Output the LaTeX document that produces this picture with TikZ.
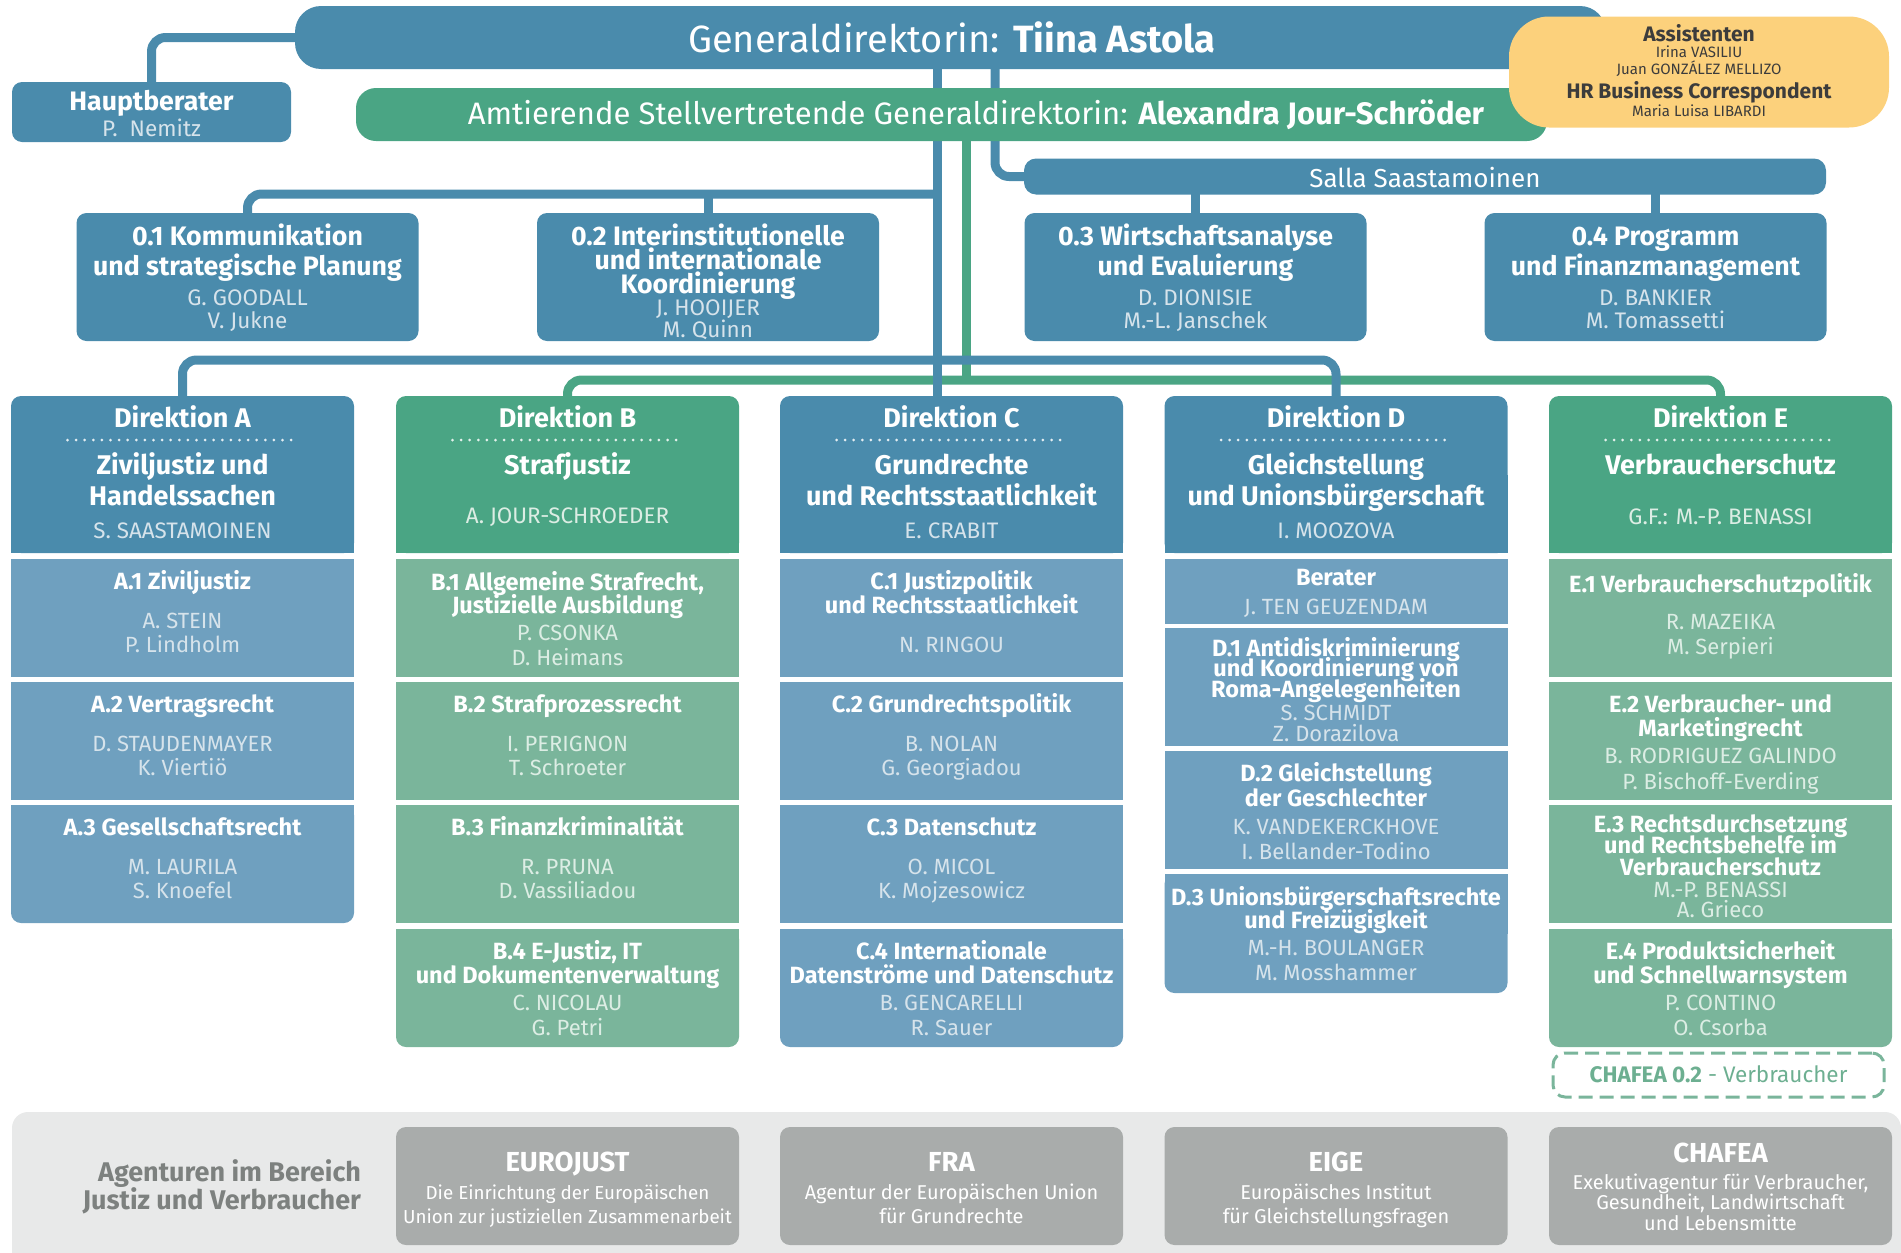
\documentclass[tikz,border=0pt]{standalone}
\usepackage{fontspec}
\setmainfont{Fira Sans}
\usetikzlibrary{calc,backgrounds}
\definecolor{dblue}{HTML}{4A8BAC}
\definecolor{dgreen}{HTML}{4AA584}
\definecolor{lblue}{HTML}{6FA0BF}
\definecolor{lgreen}{HTML}{7AB59B}
\definecolor{nb}{HTML}{D6E3EB}
\definecolor{ng}{HTML}{DCEDE4}
\definecolor{yel}{HTML}{FCD17C}
\definecolor{agbg}{HTML}{E8E9E9}
\definecolor{agbox}{HTML}{A9ACAB}
\definecolor{agtxt}{HTML}{7D817F}
\definecolor{dtxt}{HTML}{3C3C3C}
\definecolor{chtxt}{HTML}{6DAF91}
\tikzset{
 bx/.style={inner sep=0pt, outer sep=0pt, draw=none},
 txl/.style={inner sep=0pt, outer sep=0pt, text depth=0pt, align=center},
 conn/.style={line width=9pt, draw=dblue, rounded corners=14pt},
 gconn/.style={line width=9pt, draw=dgreen, rounded corners=14pt},
 ubox/.style={bx, minimum width=343pt, minimum height=118pt},
 hbox/.style={bx, minimum width=343pt, minimum height=157pt, rounded corners=10pt},
 obox/.style={bx, fill=dblue, minimum width=342pt, minimum height=128pt, rounded corners=10pt},
 abox/.style={bx, fill=agbox, minimum width=343pt, minimum height=118pt, rounded corners=10pt},
 gdt/.style={txl, font=\fontsize{38}{38}\selectfont, text=white, text height=26pt},
 dpt/.style={txl, font=\fontsize{31}{31}\selectfont, text=white, text height=21.4pt},
 sat/.style={txl, font=\fontsize{26}{26}\selectfont, text=white, text height=18pt},
 otit/.style={txl, font=\bfseries\fontsize{26.7}{27}\selectfont, text=white, text height=18.4pt},
 onam/.style={txl, font=\fontsize{22.5}{23}\selectfont, text=nb, text height=15.5pt},
 dtit/.style={txl, font=\bfseries\fontsize{27}{27}\selectfont, text=white, text height=18.6pt},
 dnb/.style={txl, font=\fontsize{22.4}{23}\selectfont, text=nb, text height=15.4pt},
 dng/.style={txl, font=\fontsize{22.4}{23}\selectfont, text=ng, text height=15.4pt},
 utit/.style={txl, font=\bfseries\fontsize{23.5}{24}\selectfont, text=white, text height=16.2pt},
 unb/.style={txl, font=\fontsize{22}{22}\selectfont, text=nb, text height=15.2pt},
 ung/.style={txl, font=\fontsize{22}{22}\selectfont, text=ng, text height=15.2pt},
 ybold/.style={txl, font=\bfseries\fontsize{21}{21}\selectfont, text=dtxt, text height=14.5pt},
 ynam/.style={txl, font=\fontsize{15}{15}\selectfont, text=dtxt, text height=10.3pt},
 agtit/.style={txl, font=\bfseries\fontsize{27.5}{28}\selectfont, text=white, text height=19pt},
 agline/.style={txl, font=\fontsize{20}{20}\selectfont, text=white, text height=13.8pt},
 aglinen/.style={txl, font=\fontsize{18.8}{19}\selectfont, text=white, text height=13pt},
 aglab/.style={txl, font=\bfseries\fontsize{27}{27}\selectfont, text=agtxt, text height=18.6pt, anchor=east},
 chtext/.style={txl, font=\fontsize{22.5}{23}\selectfont, text=chtxt, text height=15.5pt},
 hdots/.style={line width=3pt, line cap=round, dash pattern=on 0pt off 8.6pt, draw=white, draw opacity=0.85}
}
\begin{document}
\begin{tikzpicture}[x=1pt,y=-1pt]
\useasboundingbox (0,0) rectangle (1901,1253);

% ---------- top level boxes
\node[bx, fill=dblue, rounded corners=26pt, minimum width=1311pt, minimum height=63pt] (gd) at (950.5,37.5) {};
\node[gdt] (gdtext) at (952,39) {Generaldirektorin: \textbf{Tiina Astola}};

\node[bx, fill=dblue, rounded corners=10pt, minimum width=279pt, minimum height=60pt] (hb) at (151.5,112) {};
\node[otit] (hbt) at (151.5,101) {Hauptberater};
\node[onam] (hbn) at (151.5,129) {P.\ \ Nemitz};

\node[bx, fill=dgreen, rounded corners=20pt, minimum width=1191pt, minimum height=53pt] (dep) at (951.5,114.5) {};
\node[dpt] (deptext) at (976,114) {Amtierende Stellvertretende Generaldirektorin: \textbf{Alexandra Jour-Schröder}};

\node[bx, fill=yel, rounded corners=40pt, minimum width=380pt, minimum height=111pt] (ass) at (1699,72) {};
\node[ybold] (ass1) at (1699,34) {Assistenten};
\node[ynam] (ass2) at (1699,52) {Irina VASILIU};
\node[ynam] (ass3) at (1699,69) {Juan GONZÁLEZ MELLIZO};
\node[ybold] (ass4) at (1699,91) {HR Business Correspondent};
\node[ynam] (ass5) at (1699,111) {Maria Luisa LIBARDI};

\node[bx, fill=dblue, rounded corners=12pt, minimum width=802pt, minimum height=36pt] (salla) at (1425,176.5) {};
\node[sat] (sallat) at (1425,178) {Salla Saastamoinen};

% ---------- 0.x units
\node[obox] (o1) at (247.5,277) {};
\node[otit] (o1a) at (247.5,236) {0.1 Kommunikation};
\node[otit] (o1b) at (247.5,266) {und strategische Planung};
\node[onam] (o1c) at (247.5,298) {G. GOODALL};
\node[onam] (o1d) at (247.5,321) {V. Jukne};

\node[obox] (o2) at (708,277) {};
\node[otit] (o2a) at (708,236) {0.2 Interinstitutionelle};
\node[otit] (o2b) at (708,260) {und internationale};
\node[otit] (o2c) at (708,284) {Koordinierung};
\node[onam] (o2d) at (708,308) {J. HOOIJER};
\node[onam] (o2e) at (708,330) {M. Quinn};

\node[obox] (o3) at (1195.5,277) {};
\node[otit] (o3a) at (1195.5,236) {0.3 Wirtschaftsanalyse};
\node[otit] (o3b) at (1195.5,266) {und Evaluierung};
\node[onam] (o3c) at (1195.5,298) {D. DIONISIE};
\node[onam] (o3d) at (1195.5,321) {M.-L. Janschek};

\node[obox] (o4) at (1655.5,277) {};
\node[otit] (o4a) at (1655.5,236) {0.4 Programm};
\node[otit] (o4b) at (1655.5,266) {und Finanzmanagement};
\node[onam] (o4c) at (1655.5,298) {D. BANKIER};
\node[onam] (o4d) at (1655.5,321) {M. Tomassetti};

% ---------- directorate headers
\node[hbox, fill=dblue] (dA) at (182.5,474.5) {};
\fill[dblue] (dA.west) rectangle (dA.south east);
\node[hbox, fill=dgreen] (dB) at (567.5,474.5) {};
\fill[dgreen] (dB.west) rectangle (dB.south east);
\node[hbox, fill=dblue] (dC) at (951.5,474.5) {};
\fill[dblue] (dC.west) rectangle (dC.south east);
\node[hbox, fill=dblue] (dD) at (1336,474.5) {};
\fill[dblue] (dD.west) rectangle (dD.south east);
\node[hbox, fill=dgreen] (dE) at (1720.5,474.5) {};
\fill[dgreen] (dE.west) rectangle (dE.south east);

\foreach \d in {dA,dB,dC,dD,dE}{
  \draw[hdots] ($(\d.north)+(-115,44)$) -- ($(\d.north)+(115,44)$);
}

\node[dtit] (dAa) at (182.5,418) {Direktion A};
\node[dtit] (dAb) at (182.5,465) {Ziviljustiz und};
\node[dtit] (dAc) at (182.5,496) {Handelssachen};
\node[dnb] (dAd) at (182.5,531) {S. SAASTAMOINEN};

\node[dtit] (dBa) at (567.5,418) {Direktion B};
\node[dtit] (dBb) at (567.5,465) {Strafjustiz};
\node[dng] (dBd) at (567.5,516) {A. JOUR-SCHROEDER};

\node[dtit] (dCa) at (951.5,418) {Direktion C};
\node[dtit] (dCb) at (951.5,465) {Grundrechte};
\node[dtit] (dCc) at (951.5,496) {und Rechtsstaatlichkeit};
\node[dnb] (dCd) at (951.5,531) {E. CRABIT};

\node[dtit] (dDa) at (1336,418) {Direktion D};
\node[dtit] (dDb) at (1336,465) {Gleichstellung};
\node[dtit] (dDc) at (1336,496) {und Unionsbürgerschaft};
\node[dnb] (dDd) at (1336,531) {I. MOOZOVA};

\node[dtit] (dEa) at (1720.5,418) {Direktion E};
\node[dtit] (dEb) at (1720.5,465) {Verbraucherschutz};
\node[dng] (dEd) at (1720.5,517) {G.F.: M.-P. BENASSI};

% ---------- column A
\node[ubox, fill=lblue] (A1) at (182.5,618) {};
\node[utit] (A1a) at (182.5,581) {A.1 Ziviljustiz};
\node[unb] (A1b) at (182.5,621) {A. STEIN};
\node[unb] (A1c) at (182.5,645) {P. Lindholm};
\node[ubox, fill=lblue] (A2) at (182.5,741) {};
\node[utit] (A2a) at (182.5,704) {A.2 Vertragsrecht};
\node[unb] (A2b) at (182.5,744) {D. STAUDENMAYER};
\node[unb] (A2c) at (182.5,768) {K. Viertiö};
\node[ubox, fill=lblue, rounded corners=10pt] (A3) at (182.5,864) {};
\fill[lblue] (A3.west) rectangle (A3.north east);
\node[utit] (A3a) at (182.5,827) {A.3 Gesellschaftsrecht};
\node[unb] (A3b) at (182.5,867) {M. LAURILA};
\node[unb] (A3c) at (182.5,891) {S. Knoefel};

% ---------- column B
\node[ubox, fill=lgreen] (B1) at (567.5,618) {};
\node[utit] (B1a) at (567.5,582) {B.1 Allgemeine Strafrecht,};
\node[utit] (B1b) at (567.5,605) {Justizielle Ausbildung};
\node[ung] (B1c) at (567.5,633) {P. CSONKA};
\node[ung] (B1d) at (567.5,658) {D. Heimans};
\node[ubox, fill=lgreen] (B2) at (567.5,741) {};
\node[utit] (B2a) at (567.5,704) {B.2 Strafprozessrecht};
\node[ung] (B2b) at (567.5,744) {I. PERIGNON};
\node[ung] (B2c) at (567.5,768) {T. Schroeter};
\node[ubox, fill=lgreen] (B3) at (567.5,864) {};
\node[utit] (B3a) at (567.5,827) {B.3 Finanzkriminalität};
\node[ung] (B3b) at (567.5,867) {R. PRUNA};
\node[ung] (B3c) at (567.5,891) {D. Vassiliadou};
\node[ubox, fill=lgreen, rounded corners=10pt] (B4) at (567.5,988) {};
\fill[lgreen] (B4.west) rectangle (B4.north east);
\node[utit] (B4a) at (567.5,951) {B.4 E-Justiz, IT};
\node[utit] (B4b) at (567.5,975) {und Dokumentenverwaltung};
\node[ung] (B4c) at (567.5,1003) {C. NICOLAU};
\node[ung] (B4d) at (567.5,1028) {G. Petri};

% ---------- column C
\node[ubox, fill=lblue] (C1) at (951.5,618) {};
\node[utit] (C1a) at (951.5,581) {C.1 Justizpolitik};
\node[utit] (C1b) at (951.5,605) {und Rechtsstaatlichkeit};
\node[unb] (C1c) at (951.5,645) {N. RINGOU};
\node[ubox, fill=lblue] (C2) at (951.5,741) {};
\node[utit] (C2a) at (951.5,704) {C.2 Grundrechtspolitik};
\node[unb] (C2b) at (951.5,744) {B. NOLAN};
\node[unb] (C2c) at (951.5,768) {G. Georgiadou};
\node[ubox, fill=lblue] (C3) at (951.5,864) {};
\node[utit] (C3a) at (951.5,827) {C.3 Datenschutz};
\node[unb] (C3b) at (951.5,867) {O. MICOL};
\node[unb] (C3c) at (951.5,891) {K. Mojzesowicz};
\node[ubox, fill=lblue, rounded corners=10pt] (C4) at (951.5,988) {};
\fill[lblue] (C4.west) rectangle (C4.north east);
\node[utit] (C4a) at (951.5,951) {C.4 Internationale};
\node[utit] (C4b) at (951.5,975) {Datenströme und Datenschutz};
\node[unb] (C4c) at (951.5,1003) {B. GENCARELLI};
\node[unb] (C4d) at (951.5,1028) {R. Sauer};

% ---------- column D
\node[ubox, fill=lblue, minimum height=65pt] (D0) at (1336,591.5) {};
\node[utit] (D0a) at (1336,577) {Berater};
\node[unb] (D0b) at (1336,607) {J. TEN GEUZENDAM};
\node[ubox, fill=lblue] (D1) at (1336,687) {};
\node[utit] (D1a) at (1336,648) {D.1 Antidiskriminierung};
\node[utit] (D1b) at (1336,668) {und Koordinierung von};
\node[utit] (D1c) at (1336,689) {Roma-Angelegenheiten};
\node[unb] (D1d) at (1336,713) {S. SCHMIDT};
\node[unb] (D1e) at (1336,734) {Z. Dorazilova};
\node[ubox, fill=lblue] (D2) at (1336,810) {};
\node[utit] (D2a) at (1336,773) {D.2 Gleichstellung};
\node[utit] (D2b) at (1336,798) {der Geschlechter};
\node[unb] (D2c) at (1336,827) {K. VANDEKERCKHOVE};
\node[unb] (D2d) at (1336,852) {I. Bellander-Todino};
\node[ubox, fill=lblue, rounded corners=10pt, minimum height=119pt] (D3) at (1336,933.5) {};
\fill[lblue] (D3.west) rectangle (D3.north east);
\node[utit] (D3a) at (1336,897) {D.3 Unionsbürgerschaftsrechte};
\node[utit] (D3b) at (1336,920) {und Freizügigkeit};
\node[unb] (D3c) at (1336,948) {M.-H. BOULANGER};
\node[unb] (D3d) at (1336,973) {M. Mosshammer};

% ---------- column E
\node[ubox, fill=lgreen] (E1) at (1720.5,618) {};
\node[utit] (E1a) at (1720.5,584) {E.1 Verbraucherschutzpolitik};
\node[ung] (E1b) at (1720.5,622) {R. MAZEIKA};
\node[ung] (E1c) at (1720.5,647) {M. Serpieri};
\node[ubox, fill=lgreen] (E2) at (1720.5,741) {};
\node[utit] (E2a) at (1720.5,704) {E.2 Verbraucher- und};
\node[utit] (E2b) at (1720.5,728) {Marketingrecht};
\node[ung] (E2c) at (1720.5,756) {B. RODRIGUEZ GALINDO};
\node[ung] (E2d) at (1720.5,782) {P. Bischoff-Everding};
\node[ubox, fill=lgreen] (E3) at (1720.5,864) {};
\node[utit] (E3a) at (1720.5,824) {E.3 Rechtsdurchsetzung};
\node[utit] (E3b) at (1720.5,845) {und Rechtsbehelfe im};
\node[utit] (E3c) at (1720.5,867) {Verbraucherschutz};
\node[ung] (E3d) at (1720.5,890) {M.-P. BENASSI};
\node[ung] (E3e) at (1720.5,910) {A. Grieco};
\node[ubox, fill=lgreen, rounded corners=10pt] (E4) at (1720.5,988) {};
\fill[lgreen] (E4.west) rectangle (E4.north east);
\node[utit] (E4a) at (1720.5,951) {E.4 Produktsicherheit};
\node[utit] (E4b) at (1720.5,975) {und Schnellwarnsystem};
\node[ung] (E4c) at (1720.5,1003) {P. CONTINO};
\node[ung] (E4d) at (1720.5,1028) {O. Csorba};

\node[bx, draw=lgreen, line width=3pt, dash pattern=on 14pt off 7pt, rounded corners=12pt, minimum width=331pt, minimum height=44pt] (chf) at (1718.5,1075) {};
\node[chtext] (chft) at (1718.5,1075) {\textbf{CHAFEA 0.2} - Verbraucher};

% ---------- agencies
\node[bx, fill=agbg, rounded corners=16pt, minimum width=1889pt, minimum height=170pt, anchor=north west] (band) at (12,1112) {};
\node[aglab] (band1) at (361,1172) {Agenturen im Bereich};
\node[aglab] (band2) at (361,1200) {Justiz und Verbraucher};

\node[abox] (agB) at (567.5,1186) {};
\node[agtit] (agBa) at (567.5,1162) {EUROJUST};
\node[aglinen] (agBb) at (567.5,1193) {Die Einrichtung der Europäischen};
\node[aglinen] (agBc) at (567.5,1217) {Union zur justiziellen Zusammenarbeit};
\node[abox] (agC) at (951.5,1186) {};
\node[agtit] (agCa) at (951.5,1162) {FRA};
\node[agline] (agCb) at (951.5,1193) {Agentur der Europäischen Union};
\node[agline] (agCc) at (951.5,1217) {für Grundrechte};
\node[abox] (agD) at (1336,1186) {};
\node[agtit] (agDa) at (1336,1162) {EIGE};
\node[agline] (agDb) at (1336,1193) {Europäisches Institut};
\node[agline] (agDc) at (1336,1217) {für Gleichstellungsfragen};
\node[abox] (agE) at (1720.5,1186) {};
\node[agtit] (agEa) at (1720.5,1153) {CHAFEA};
\node[agline] (agEb) at (1720.5,1183) {Exekutivagentur für Verbraucher,};
\node[agline] (agEc) at (1720.5,1203) {Gesundheit, Landwirtschaft};
\node[agline] (agEd) at (1720.5,1224) {und Lebensmitte};

% ---------- connectors (behind boxes)
\coordinate (tb) at (937,0);
\coordinate (gx) at (966,0);
\coordinate (sx) at (995,0);
\coordinate (l0) at (937,194);
\coordinate (bl) at (937,360);
\coordinate (gl) at (966,380);
\begin{scope}[on background layer]
  \draw[gconn] (dep.center -| gx) -- (gl);
  \draw[gconn] (dB.north) |- (gl) -| (dE.north);
  \draw[conn] (gd.center) -| (hb.north);
  \draw[conn] (gd.center -| tb) -- (dC.north -| tb);
  \draw[conn] (l0) -| (o1.north);
  \draw[conn] (o2.north) -- (o2.north |- l0);
  \draw[conn] (gd.center -| sx) |- (salla.center);
  \draw[conn] (salla.center -| o3.north) -- (o3.north);
  \draw[conn] (salla.center -| o4.north) -- (o4.north);
  \draw[conn] (dA.north) |- (bl) -| (dD.north);
\end{scope}
\end{tikzpicture}
\end{document}
